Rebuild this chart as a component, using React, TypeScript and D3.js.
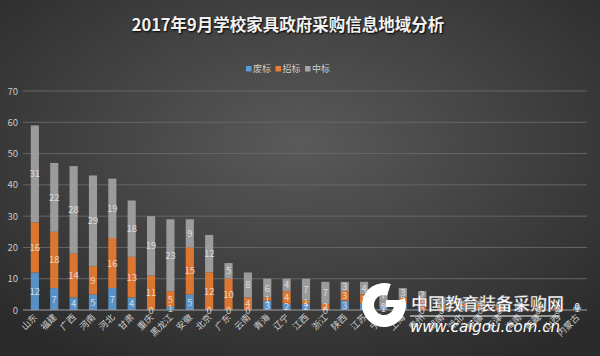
import React from "react";
import * as d3 from "d3";

const categories = ["山东","福建","广西","河南","河北","甘肃","重庆","黑龙江","安徽","北京","广东","云南","青海","辽宁","江西","浙江","陕西","江苏","宁夏","上海","贵州","湖南","湖北","新疆","天津","海南","西藏","山西","内蒙古"];
const feibiao = [12,7,4,5,7,4,0,1,5,0,0,0,3,2,2,0,3,2,1,2,0,0,1,0,0,1,0,0,1];
const zhaobiao = [16,18,14,9,16,13,11,5,15,12,10,4,1,4,1,2,3,3,0,2,4,2,1,2,1,0,1,1,0];
const zhongbiao = [31,22,28,29,19,18,19,23,9,12,5,8,6,4,7,7,3,4,7,3,2,2,1,1,1,1,1,0,0];
const seriesNames = ["废标","招标","中标"];
const seriesColors = ["#5b9bd5","#ed7d31","#a5a5a5"];
const yTicks = [0,10,20,30,40,50,60,70];
const title = "2017年9月学校家具政府采购信息地域分析";

export default function App() {
  const W = 600, H = 356;
  const x = d3.scaleBand<string>().domain(categories).range([25, 587]).paddingInner(0.58).paddingOuter(0.3);
  const y = d3.scaleLinear().domain([0, 70]).range([310, 91]);
  const rows = categories.map((c, i) => ({ cat: c, s0: feibiao[i], s1: zhaobiao[i], s2: zhongbiao[i] }));
  const stack = d3.stack<any>().keys(["s0", "s1", "s2"]);
  const layers = stack(rows);
  const font = "'Noto Sans CJK SC', 'Noto Sans', sans-serif";
  const bw = x.bandwidth();
  return (
    <svg width={W} height={H} style={{ position: "absolute", left: 0, top: 0 }} fontFamily={font}>
      <defs>
        <radialGradient id="bg" cx="50%" cy="40%" r="70%">
          <stop offset="0%" stopColor="#5a5a5a" />
          <stop offset="100%" stopColor="#2b2b2b" />
        </radialGradient>
      </defs>
      <rect x={0} y={0} width={W} height={H} fill="url(#bg)" />
      <text x={288} y={31} textAnchor="middle" fontSize={16.5} fontWeight="bold" fill="#f2f2f2"
        style={{ textShadow: "1px 1px 2px #000" }}>{title}</text>
      {/* legend */}
      {seriesNames.map((n, i) => {
        const lx = 246 + i * 29.5;
        return (
          <g key={n}>
            <rect x={lx} y={66} width={5.5} height={5.5} fill={seriesColors[i]} />
            <text x={lx + 7} y={72} fontSize={9} fill="#d0d0d0">{n}</text>
          </g>
        );
      })}
      {/* grid */}
      {yTicks.map(t => (
        <g key={t}>
          {t > 0 && <line x1={23} x2={587} y1={y(t)} y2={y(t)} stroke="#666666" strokeWidth={1} />}
          <text x={18} y={y(t) + 3.5} textAnchor="end" fontSize={9.5} fill="#c8c8c8">{t}</text>
        </g>
      ))}
      {/* bars */}
      {layers.map((layer, li) => (
        <g key={li}>
          {layer.map((d: any, i: number) => (
            <rect key={i} x={x(categories[i])!} y={y(d[1])} width={bw} height={Math.max(0, y(d[0]) - y(d[1]))}
              fill={seriesColors[li]} fillOpacity={0.9} />
          ))}
        </g>
      ))}
      <line x1={23} x2={587} y1={y(0)} y2={y(0)} stroke="#a0a0a0" strokeWidth={1} />
      {/* data labels */}
      {layers.map((layer, li) => (
        <g key={"l" + li}>
          {layer.map((d: any, i: number) => {
            const v = d[1] - d[0];
            return (
              <text key={i} x={x(categories[i])! + bw / 2} y={(y(d[0]) + y(d[1])) / 2 + 3.5} textAnchor="middle"
                fontSize={9.5} fill="#e8e8e8" fillOpacity={0.85}>{v}</text>
            );
          })}
        </g>
      ))}
      {/* x labels */}
      {categories.map(c => {
        const cx = x(c)! + bw / 2 + 3;
        return (
          <text key={c} transform={`translate(${cx},${318}) rotate(-45)`} textAnchor="end" fontSize={9} fill="#d0d0d0">{c}</text>
        );
      })}
      {/* watermark */}
      <g>
        <path d={d3.arc()({ innerRadius: 10, outerRadius: 22, startAngle: 0.4 * Math.PI, endAngle: 2.1 * Math.PI }) || ""}
          transform="translate(384,305)" fill="#ffffff" />
        <rect x={386} y={300} width={14} height={7} fill="#ffffff" />
        <text x={411} y={310} fontSize={17} fontWeight="bold" fill="#ffffff" stroke="#444" strokeWidth={0.4}>中国教育装备采购网</text>
        <line x1={410} x2={560} y1={316} y2={316} stroke="#ffffff" strokeWidth={1} />
        <text x={410} y={332} fontSize={15} fontStyle="italic" fill="#ffffff" fontFamily="'DejaVu Sans', sans-serif" textLength={150}>www.caigou.com.cn</text>
      </g>
    </svg>
  );
}
